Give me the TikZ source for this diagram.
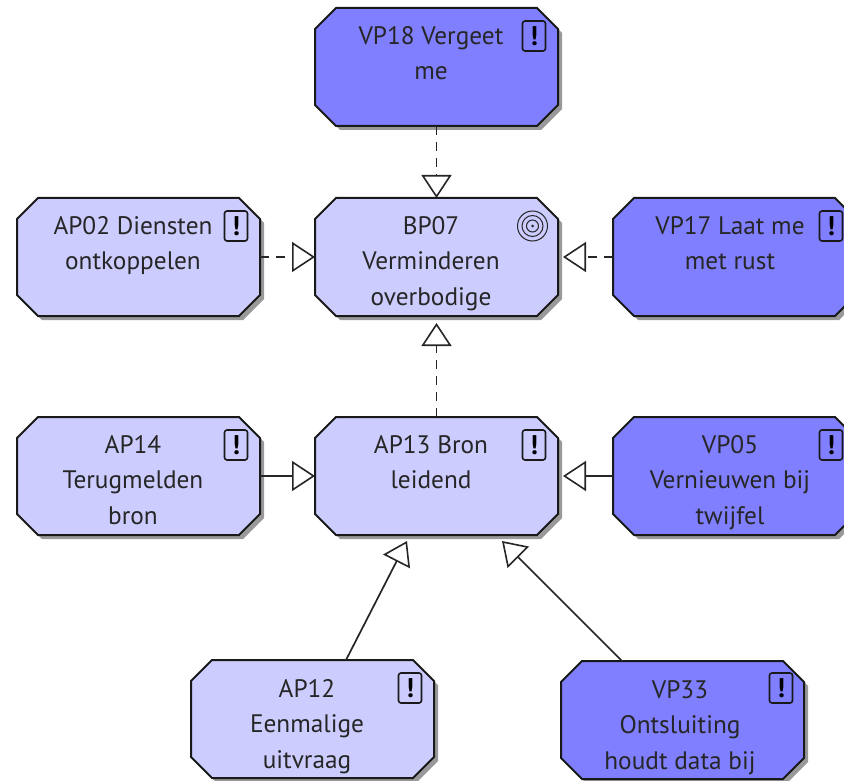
\documentclass[tikz,border=0pt]{standalone}
\usepackage{fontspec}
\setmainfont{PT Sans}
\usetikzlibrary{arrows.meta}
\definecolor{lightblock}{HTML}{CCCCFF}
\definecolor{darkblock}{HTML}{7F7FFF}
\tikzset{
 x=1pt,y=-1pt,
 blockanchor/.style={rectangle,minimum width=243pt,minimum height=118pt,inner sep=0pt,outer sep=0pt},
 blockline/.style={draw=black!90,line width=2pt,line join=miter},
 blockshadow/.style={fill=black!40},
 caption/.style={anchor=north,align=center,font=\fontsize{25.3}{35.5}\selectfont,text=black!85,inner sep=0pt},
 warnicon/.style={draw=black!90,line width=1.6pt,rounded corners=2.5pt,minimum width=23pt,minimum height=30pt,inner sep=0pt,font=\fontsize{27}{27}\bfseries\selectfont},
 ringicon/.style={circle,draw=black!85,line width=1pt,minimum size=#1,inner sep=0pt},
 realize/.style={draw=black!85,line width=1.7pt,-{Triangle[open,length=23pt,width=30pt,fill=white,line width=1.6pt]}},
 realizedash/.style={realize,dash pattern=on 9pt off 7pt},
}
\newcommand{\octo}{(-100.5,-59) -- (100.5,-59) -- (121.5,-38) -- (121.5,38) -- (100.5,59) -- (-100.5,59) -- (-121.5,38) -- (-121.5,-38) -- cycle}
\newcommand{\block}[4]{%
  \fill[blockshadow,shift={(#3+4,#4+4)}] \octo;
  \draw[blockline,fill=#2,shift={(#3,#4)}] \octo;
  \node[blockanchor] (#1) at (#3,#4) {};
}
\begin{document}
\begin{tikzpicture}
\useasboundingbox (0,0) rectangle (844,781);
\clip (0,0) rectangle (844,781);
\fill[white] (0,0) rectangle (844,781);
\block{vp18}{darkblock}{436.5}{67}
\block{bp07}{lightblock}{436.5}{257}
\block{ap02}{lightblock}{138.5}{257}
\block{vp17}{darkblock}{734.5}{257}
\block{ap14}{lightblock}{138.5}{476}
\block{ap13}{lightblock}{436.5}{476}
\block{vp05}{darkblock}{734.5}{476}
\block{ap12}{lightblock}{312.5}{719}
\block{vp33}{darkblock}{682.5}{720}
\node[caption] (tvp18) at (431,26) {VP18 Vergeet\\me};
\node[caption] (tbp07) at (431,216) {BP07\\Verminderen\\overbodige};
\node[caption] (tap02) at (133,216) {AP02 Diensten\\ontkoppelen};
\node[caption] (tvp17) at (730,216) {VP17 Laat me\\met rust};
\node[caption] (tap14) at (133,435) {AP14\\Terugmelden\\bron};
\node[caption] (tap13) at (431,435) {AP13 Bron\\leidend};
\node[caption] (tvp05) at (730,435) {VP05\\Vernieuwen bij\\twijfel};
\node[caption] (tap12) at (307,679) {AP12\\Eenmalige\\uitvraag};
\node[caption] (tvp33) at (680,680) {VP33\\Ontsluiting\\houdt data bij};
\foreach \n/\x/\y in {i1/534/36,i2/236/226,i3/831/226,i4/236/445,i5/534/445,i6/831/445,i7/410/688,i8/781/688}
  \node[warnicon] (\n) at (\x,\y) {!};
\node[ringicon=30pt] (r1) at (532.5,226) {};
\node[ringicon=21pt] (r2) at (532.5,226) {};
\node[ringicon=12pt] (r3) at (532.5,226) {};
\node[circle,fill=black!85,minimum size=3pt,inner sep=0pt] (r4) at (532.5,226) {};
\draw[realizedash] (vp18.south) -- (bp07.north);
\draw[realizedash] (ap02.east) -- (bp07.west);
\draw[realizedash,shorten >=5pt] (vp17.west) -- (bp07.east);
\draw[realizedash,shorten >=7pt] (ap13.north) -- (bp07.south);
\draw[realize] (ap14.east) -- (ap13.west);
\draw[realize,shorten >=5pt] (vp05.west) -- (ap13.east);
\draw[realize] ([xshift=33.5pt]ap12.north) -- ([xshift=-29.5pt,yshift=-6pt]ap13.south);
\draw[realize] ([xshift=-60.5pt]vp33.north) -- ([xshift=65.5pt,yshift=-6pt]ap13.south);
\end{tikzpicture}
\end{document}
